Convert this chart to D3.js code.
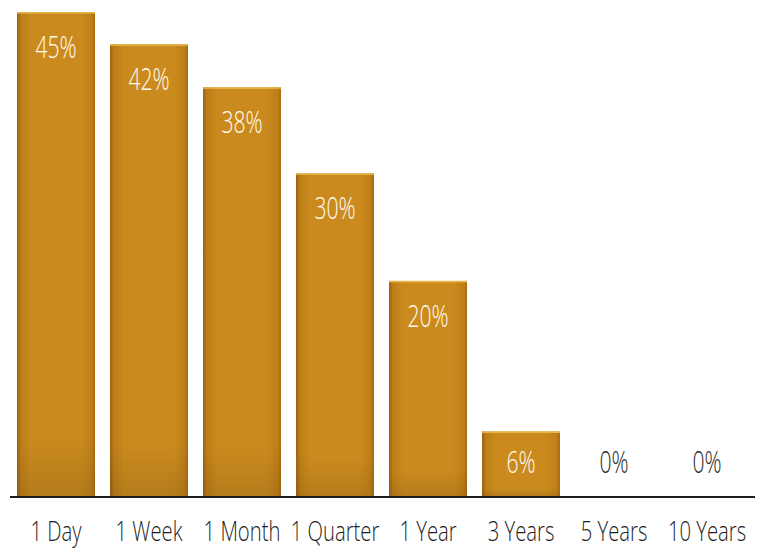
<!DOCTYPE html>
<html>
<head>
<meta charset="utf-8">
<script src="https://cdn.jsdelivr.net/npm/d3@7"></script>
<style>
  html, body { margin: 0; padding: 0; background: #fff; }
  svg { display: block; }
  text { font-family: "Open Sans", "Lato", sans-serif; font-weight: 300; }
</style>
</head>
<body>
<svg id="chart" width="765" height="548"></svg>
<script>
// Share of returns by holding horizon
const categories = ["1 Day", "1 Week", "1 Month", "1 Quarter", "1 Year", "3 Years", "5 Years", "10 Years"];
const values = [45, 42, 38, 30, 20, 6, 0, 0];

const svg = d3.select("#chart");
const baseY = 496, topY = 12;

const x = d3.scaleBand()
  .domain(categories)
  .range([9.5, 753.5])
  .paddingInner(15 / 93)
  .paddingOuter(7.5 / 93);

const y = d3.scaleLinear().domain([0, 45]).range([baseY, topY]);

// bar shading
const defs = svg.append("defs");
const hg = defs.append("linearGradient").attr("id", "barH").attr("x1", 0).attr("x2", 1).attr("y1", 0).attr("y2", 0);
[[0, "#9a6310"], [0.05, "#bd7e18"], [0.18, "#ca8a1e"], [0.82, "#ca8a1e"], [0.95, "#c0801a"], [1, "#a86d12"]]
  .forEach(([o, c]) => hg.append("stop").attr("offset", o).attr("stop-color", c));
const vg = defs.append("linearGradient").attr("id", "barV").attr("x1", 0).attr("x2", 0).attr("y1", 0).attr("y2", 1);
[[0, "#000", 0], [0.88, "#000", 0], [1, "#000", 0.1]]
  .forEach(([o, c, a]) => vg.append("stop").attr("offset", o).attr("stop-color", c).attr("stop-opacity", a));

const bars = svg.append("g").selectAll("g")
  .data(values.map((v, i) => ({ cat: categories[i], v })))
  .join("g");

const filled = bars.filter(d => d.v > 0);

filled.append("rect")
  .attr("x", d => x(d.cat))
  .attr("y", d => y(d.v))
  .attr("width", x.bandwidth())
  .attr("height", d => baseY - y(d.v))
  .attr("fill", "url(#barH)");

filled.append("rect")
  .attr("x", d => x(d.cat))
  .attr("y", d => y(d.v))
  .attr("width", x.bandwidth())
  .attr("height", d => baseY - y(d.v))
  .attr("fill", "url(#barV)");

// light top edge
filled.append("rect")
  .attr("x", d => x(d.cat))
  .attr("y", d => y(d.v))
  .attr("width", x.bandwidth())
  .attr("height", 1.5)
  .attr("fill", "#e8b84a");

// value labels
bars.append("text")
  .attr("text-anchor", "middle")
  .attr("font-size", 32)
  .attr("fill", d => d.v > 0 ? "#fffbef" : "#2a2a2a")
  .attr("transform", d => {
    const cx = x(d.cat) + x.bandwidth() / 2;
    const ty = Math.min(y(d.v) + 46, baseY - 23);
    return `translate(${cx},${ty}) scale(0.66,1)`;
  })
  .text(d => d.v + "%");

// baseline
svg.append("line")
  .attr("x1", 10).attr("x2", 755)
  .attr("y1", baseY + 1).attr("y2", baseY + 1)
  .attr("stroke", "#1e1e1e").attr("stroke-width", 2.2);

// category axis labels
svg.append("g").selectAll("text")
  .data(categories)
  .join("text")
  .attr("text-anchor", "middle")
  .attr("font-size", 27)
  .attr("fill", "#1e1e1e")
  .attr("transform", d => `translate(${x(d) + x.bandwidth() / 2},541) scale(0.75,1)`)
  .text(d => d);
</script>
</body>
</html>
